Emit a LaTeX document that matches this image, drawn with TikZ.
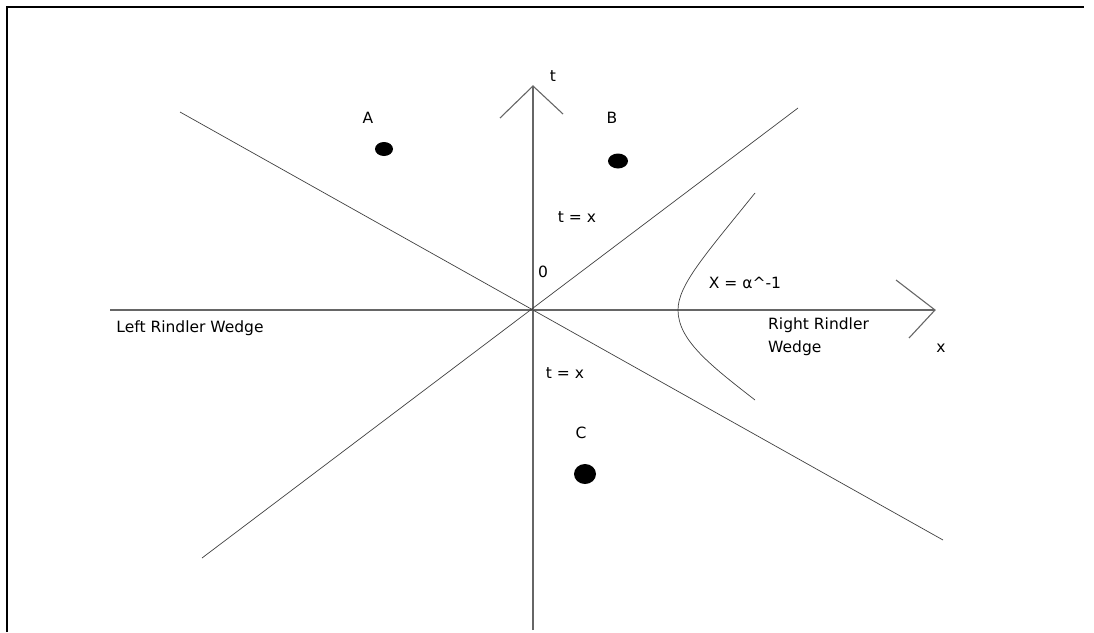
\documentclass[tikz,border=0pt]{standalone}
\usepackage{fontspec}
\setmainfont{DejaVu Sans}
\begin{document}
\begin{tikzpicture}[x=1pt,y=-1pt,
  ln/.style={draw=black!75, line width=0.7pt},
  ax/.style={draw=black!60, line width=1.1pt},
  lbl/.style={inner sep=0pt, font=\fontsize{15.5}{23}\selectfont},
]
\useasboundingbox (0,0) rectangle (1094,632);
% frame
\draw[line width=1.3pt] (7,632) -- (7,7) -- (1084,7);
% coordinates
\coordinate (O) at (533,310);
\coordinate (ttop) at (533,86);
\coordinate (tbot) at (533,630);
\coordinate (tl) at (500,118);
\coordinate (tr) at (563,114);
\coordinate (xl) at (110,310);
\coordinate (xr) at (935,310);
\coordinate (xu) at (896,280);
\coordinate (xd) at (909,338);
\coordinate (l1a) at (180,112);
\coordinate (l1b) at (943,540);
\coordinate (l2a) at (202,558);
\coordinate (l2b) at (798,108);
\coordinate (h1) at (755,193);
\coordinate (hv) at (678,310);
\coordinate (h2) at (755,400);
% axes
\draw[ax] (tbot) -- (ttop);
\draw[ax] (tl) -- (ttop) -- (tr);
\draw[ax] (xl) -- (xr);
\draw[ax] (xu) -- (xr) -- (xd);
% light cone lines
\draw[ln] (l1a) -- (l1b);
\draw[ln] (l2a) -- (l2b);
% hyperbola
\draw[ln] (h1) .. controls (705,255) and (678,285) .. (hv)
          .. controls (678,340) and (710,365) .. (h2);
% dots
\fill (384,149) ellipse (9pt and 7pt);
\fill (618,161) ellipse (10pt and 7.5pt);
\fill (585,474) ellipse (11pt and 10pt);
% labels
\node[lbl] (A) at (368,118) {A};
\node[lbl] (B) at (612,118) {B};
\node[lbl] (C) at (581,433) {C};
\node[lbl] (t) at (553,76) {t};
\node[lbl] (x) at (941,348) {x};
\node[lbl] (tx1) at (577,217) {t = x};
\node[lbl] (zero) at (543,272) {0};
\node[lbl] (tx2) at (565,373) {t = x};
\node[lbl] (X) at (745,283) {X = α\^{}-1};
\node[lbl] (L) at (190,328) {Left Rindler Wedge};
\node[lbl, anchor=west, align=left] (R) at (768,337) {Right Rindler\\Wedge};
\end{tikzpicture}
\end{document}
